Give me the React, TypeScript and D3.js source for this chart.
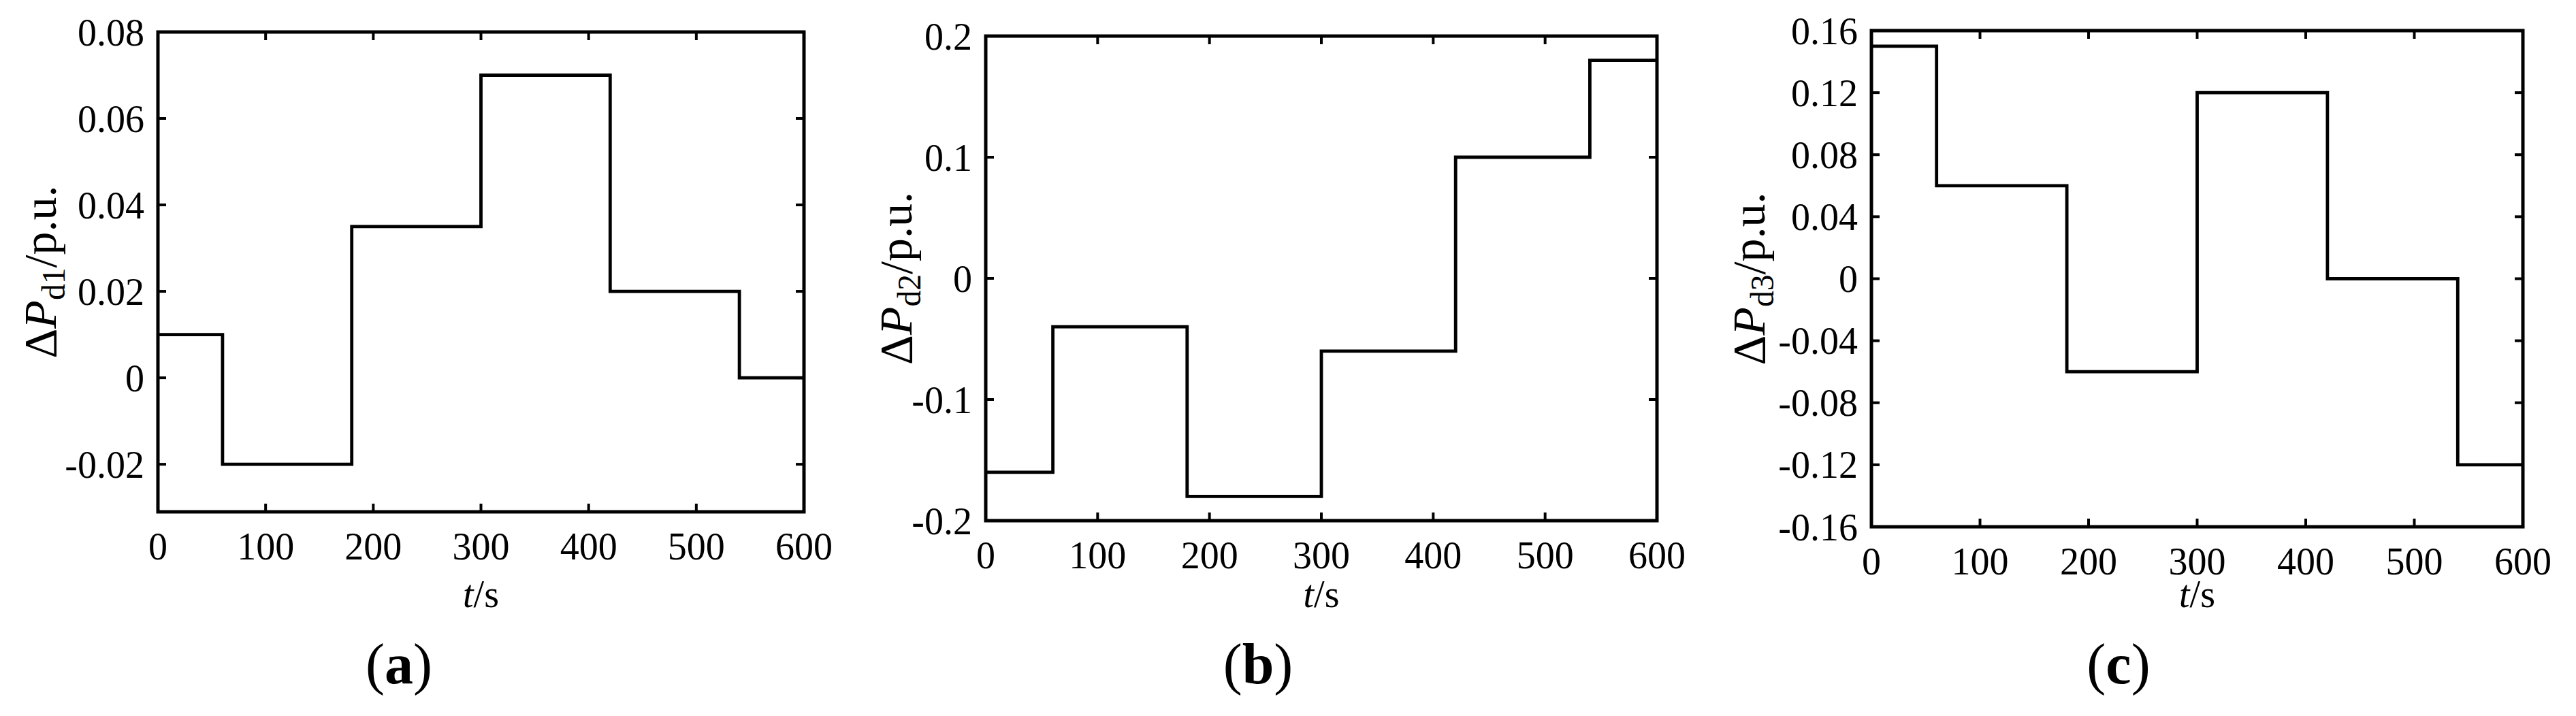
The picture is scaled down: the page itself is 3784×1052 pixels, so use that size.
import React from "react";
import * as d3 from "d3";

// ---- data ----
const stepTimes = [0, 60, 180, 300, 420, 540];
const endTime = 600;
const pd1 = [0.01, -0.02, 0.035, 0.07, 0.02, 0];
const pd2 = [-0.16, -0.04, -0.18, -0.06, 0.1, 0.18];
const pd3 = [0.15, 0.06, -0.06, 0.12, 0, -0.12];

const xTicks = [0, 100, 200, 300, 400, 500, 600];
const xTickLabels = ["0", "100", "200", "300", "400", "500", "600"];

const yTicks1 = [-0.02, 0, 0.02, 0.04, 0.06, 0.08];
const yTickLabels1 = ["-0.02", "0", "0.02", "0.04", "0.06", "0.08"];
const yTicks2 = [-0.2, -0.1, 0, 0.1, 0.2];
const yTickLabels2 = ["-0.2", "-0.1", "0", "0.1", "0.2"];
const yTicks3 = [-0.16, -0.12, -0.08, -0.04, 0, 0.04, 0.08, 0.12, 0.16];
const yTickLabels3 = ["-0.16", "-0.12", "-0.08", "-0.04", "0", "0.04", "0.08", "0.12", "0.16"];

const yDomain1: [number, number] = [-0.031, 0.08];
const yDomain2: [number, number] = [-0.2, 0.2];
const yDomain3: [number, number] = [-0.16, 0.16];

const subscripts = ["d1", "d2", "d3"];
const panelTags = ["a", "b", "c"];

// ---- layout ----
const layouts = [
  { left: 232, right: 1181, top: 47, bottom: 752, yTitleX: 82, tagX: 586 },
  { left: 1448, right: 2434, top: 53, bottom: 765, yTitleX: 1339, tagX: 1848 },
  { left: 2749, right: 3706, top: 45, bottom: 774, yTitleX: 2592, tagX: 3112 },
];

const FONT = "'Liberation Serif', 'Times New Roman', serif";
const TICK_FS = 56;
const TITLE_FS = 68;
const TICK_LEN = 12;

type PanelProps = {
  values: number[];
  yDomain: [number, number];
  yTicks: number[];
  yTickLabels: string[];
  sub: string;
  tag: string;
  lay: typeof layouts[number];
};

function Panel({ values, yDomain, yTicks, yTickLabels, sub, tag, lay }: PanelProps) {
  const x = d3.scaleLinear().domain([0, endTime]).range([lay.left, lay.right]);
  const y = d3.scaleLinear().domain(yDomain).range([lay.bottom, lay.top]);
  const pts: [number, number][] = stepTimes.map((t, i) => [t, values[i]]);
  pts.push([endTime, values[values.length - 1]]);
  const line = d3
    .line<[number, number]>()
    .x((d) => x(d[0]))
    .y((d) => y(d[1]))
    .curve(d3.curveStepAfter);
  const cx = (lay.left + lay.right) / 2;
  const cy = (lay.top + lay.bottom) / 2;
  return (
    <g>
      {xTicks.map((t) => (
        <g key={"xt" + t}>
          <line x1={x(t)} x2={x(t)} y1={lay.bottom} y2={lay.bottom - TICK_LEN} stroke="#000" strokeWidth={4} />
          <line x1={x(t)} x2={x(t)} y1={lay.top} y2={lay.top + TICK_LEN} stroke="#000" strokeWidth={4} />
        </g>
      ))}
      {yTicks.map((t) => (
        <g key={"yt" + t}>
          <line x1={lay.left} x2={lay.left + TICK_LEN} y1={y(t)} y2={y(t)} stroke="#000" strokeWidth={4} />
          <line x1={lay.right} x2={lay.right - TICK_LEN} y1={y(t)} y2={y(t)} stroke="#000" strokeWidth={4} />
        </g>
      ))}
      <path d={line(pts) || ""} fill="none" stroke="#000" strokeWidth={4.8} strokeLinejoin="miter" />
      <rect
        x={lay.left}
        y={lay.top}
        width={lay.right - lay.left}
        height={lay.bottom - lay.top}
        fill="none"
        stroke="#000"
        strokeWidth={5}
      />
      {xTicks.map((t, i) => (
        <text key={"xl" + t} x={x(t)} y={lay.bottom + 70} textAnchor="middle" fontSize={TICK_FS} fontFamily={FONT}>
          {xTickLabels[i]}
        </text>
      ))}
      {yTicks.map((t, i) => (
        <text
          key={"yl" + t}
          x={lay.left - 20}
          y={y(t)}
          dy="0.35em"
          textAnchor="end"
          fontSize={TICK_FS}
          fontFamily={FONT}
        >
          {yTickLabels[i]}
        </text>
      ))}
      <text x={cx} y={892} textAnchor="middle" fontSize={TICK_FS} fontFamily={FONT}>
        <tspan fontStyle="italic">t</tspan>
        <tspan>/s</tspan>
      </text>
      <text
        transform={`translate(${lay.yTitleX},${cy}) rotate(-90)`}
        textAnchor="middle"
        fontSize={TITLE_FS}
        fontFamily={FONT}
      >
        Δ<tspan fontStyle="italic">P</tspan>
        <tspan fontSize={TITLE_FS * 0.7} dy={13}>
          {sub}
        </tspan>
        <tspan dy={-13}>/p.u.</tspan>
      </text>
      <text x={lay.tagX} y={1004} textAnchor="middle" fontSize={84} fontFamily={FONT}>
        (<tspan fontWeight="bold">{tag}</tspan>)
      </text>
    </g>
  );
}

export default function App() {
  const series = [pd1, pd2, pd3];
  const domains = [yDomain1, yDomain2, yDomain3];
  const ticks = [yTicks1, yTicks2, yTicks3];
  const tickLabels = [yTickLabels1, yTickLabels2, yTickLabels3];
  return (
    <svg
      width={3784}
      height={1052}
      style={{ position: "absolute", left: 0, top: 0, background: "#fff" }}
    >
      <rect x={0} y={0} width={3784} height={1052} fill="#fff" />
      {series.map((v, i) => (
        <Panel
          key={i}
          values={v}
          yDomain={domains[i]}
          yTicks={ticks[i]}
          yTickLabels={tickLabels[i]}
          sub={subscripts[i]}
          tag={panelTags[i]}
          lay={layouts[i]}
        />
      ))}
    </svg>
  );
}
